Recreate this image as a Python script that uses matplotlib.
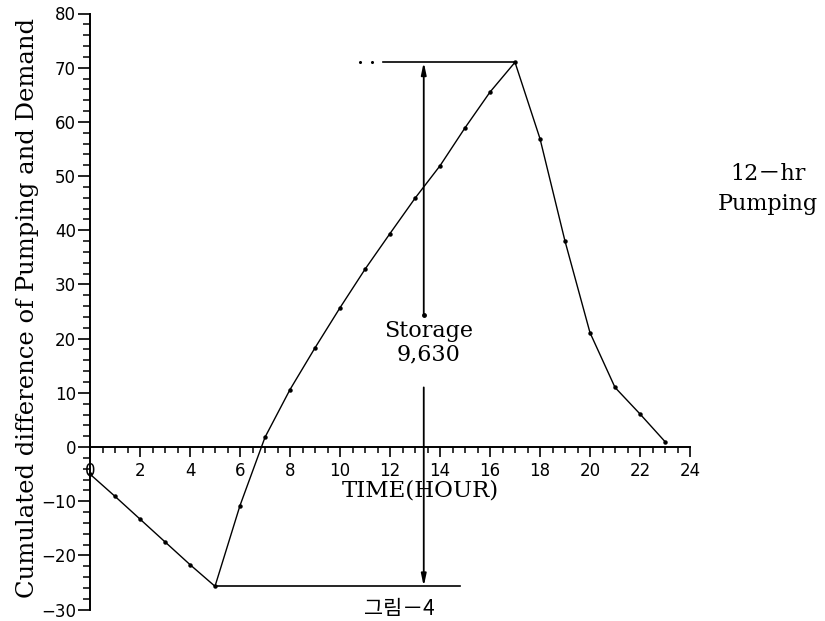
import matplotlib
matplotlib.use("Agg")
import matplotlib.pyplot as plt
import numpy as np

# ---- data ----
hours = list(range(0, 24))
cum_diff = [-5.0, -9.1, -13.3, -17.5, -21.7, -25.7, -10.8, 1.8, 10.6, 18.3,
            25.7, 32.8, 39.4, 45.9, 51.9, 58.9, 65.5, 71.0, 56.9, 38.0,
            21.1, 11.0, 6.1, 1.0]
x_ticks = [0, 2, 4, 6, 8, 10, 12, 14, 16, 18, 20, 22, 24]
y_ticks = [-30, -20, -10, 0, 10, 20, 30, 40, 50, 60, 70, 80]
storage_time = 13.35
storage_max = 71.0
storage_min = -25.7
storage_label_top = 24.4
storage_label_bottom = 11.0
top_line_start = 11.7
top_dots_x = [10.8, 11.28]
bottom_line_end = 14.8
storage_text = "Storage\n9,630"
side_text = "12－hr\nPumping"
caption = "그림－4"
serif = ["DejaVu Serif", "Noto Sans CJK KR"]

fig = plt.figure(figsize=(8.25, 6.21), dpi=100)
ax = fig.add_axes([90 / 825, 1 - 609.6 / 621, 600 / 825, (609.6 - 13.5) / 621])
ax.set_xlim(0, 24)
ax.set_ylim(-30, 80)

# main curve
ax.plot(hours, cum_diff, color="black", lw=1.0, marker="o", ms=2.2,
        solid_joinstyle="miter", zorder=3, clip_on=False)

# horizontal reference lines
ax.plot([top_line_start, hours[cum_diff.index(max(cum_diff))]], [storage_max, storage_max],
        color="black", lw=1.2, clip_on=False)
ax.plot(top_dots_x, [storage_max] * len(top_dots_x), ls="none", marker="o",
        ms=1.2, color="black", clip_on=False)
ax.plot([hours[cum_diff.index(min(cum_diff))], bottom_line_end], [storage_min, storage_min],
        color="black", lw=1.2, clip_on=False)

# storage vertical arrows
ax.annotate("", xy=(storage_time, storage_max), xytext=(storage_time, storage_label_top),
            arrowprops=dict(arrowstyle="-|>,head_length=0.7,head_width=0.15",
                            color="black", lw=1.3, shrinkA=0, shrinkB=0), zorder=2)
ax.annotate("", xy=(storage_time, storage_min), xytext=(storage_time, storage_label_bottom),
            arrowprops=dict(arrowstyle="-|>,head_length=0.7,head_width=0.15",
                            color="black", lw=1.3, shrinkA=0, shrinkB=0), zorder=2)
ax.plot([storage_time], [storage_label_top], marker="o", ms=2.5, color="black")
ax.text(storage_time + 0.2, 19.3, storage_text,
        ha="center", va="center", fontsize=16, family=serif, linespacing=1.1)

# axes styling
for s in ["top", "right"]:
    ax.spines[s].set_visible(False)
ax.spines["bottom"].set_position(("data", 0))
ax.spines["left"].set_linewidth(1.4)
ax.spines["bottom"].set_linewidth(1.4)

ax.set_xticks(x_ticks)
ax.set_xticks(np.arange(0, 24.01, 0.5), minor=True)
ax.set_yticks(y_ticks)
ax.set_yticks(np.arange(-30, 80.01, 2), minor=True)
ax.tick_params(axis="x", which="major", direction="out", length=7.5, width=1.2,
               labelsize=12, pad=3)
ax.tick_params(axis="x", which="minor", direction="out", length=4.5, width=1.1)
ax.tick_params(axis="y", which="major", direction="out", length=8.5, width=1.2,
               labelsize=12, pad=1.5)
ax.tick_params(axis="y", which="minor", direction="out", length=5, width=1.1)

xl = ax.set_xlabel("TIME(HOUR)", fontsize=16.5, family=serif)
ax.xaxis.set_label_coords((420 - 90) / 600, (609.6 - 491) / 596.1)
xl.set_va("center")
xl.set_bbox(dict(facecolor="white", edgecolor="none", pad=0))
xl.set_zorder(5)

fig.text(28 / 825, 1 - 308 / 621, "Cumulated difference of Pumping and Demand",
         rotation=90, ha="center", va="center", fontsize=17.5, family=serif)
fig.text(768 / 825, 1 - 189 / 621, side_text, ha="center", va="center",
         fontsize=16, family=serif, linespacing=1.5)
fig.text(399 / 825, 1 - 620 / 621, caption, ha="center", va="bottom",
         fontsize=15, family=["Noto Sans CJK KR", "DejaVu Sans"])

fig.savefig("out.png", dpi=100)
